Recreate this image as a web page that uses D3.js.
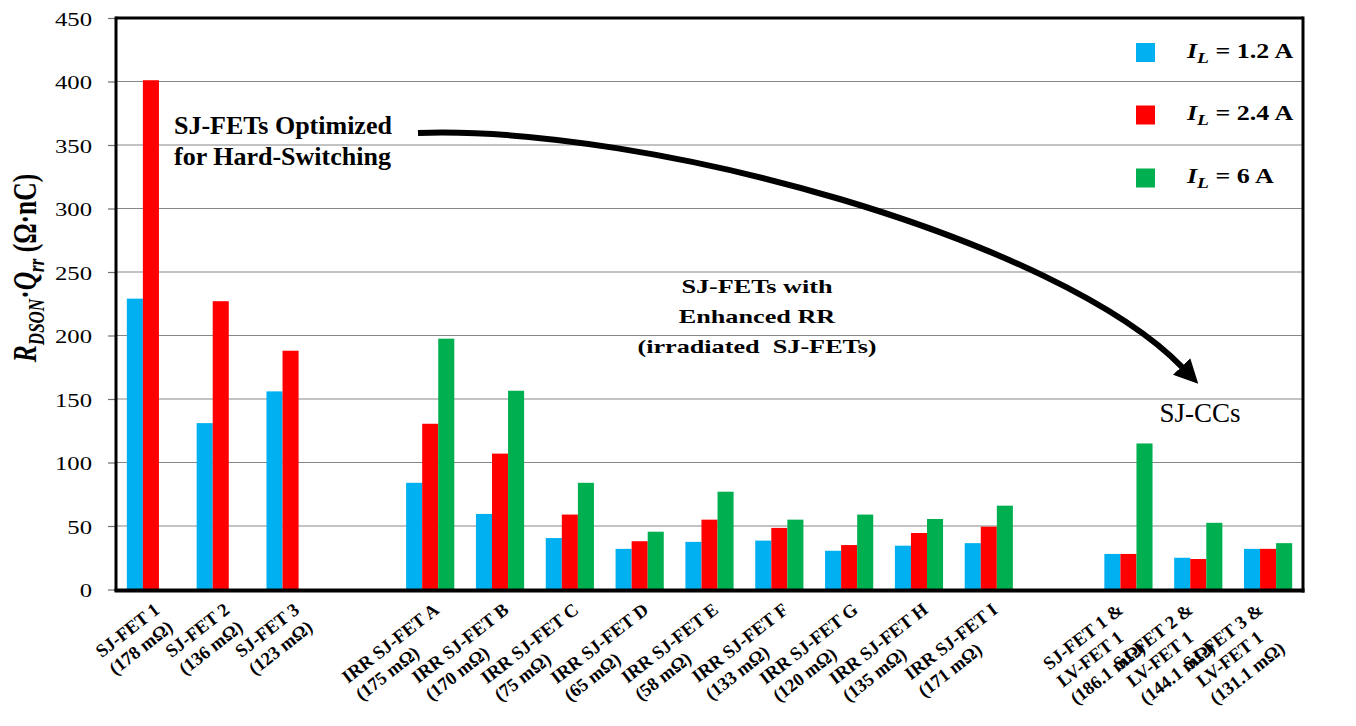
<!DOCTYPE html>
<html>
<head>
<meta charset="utf-8">
<script src="https://cdn.jsdelivr.net/npm/d3@7"></script>
<style>
  html, body { margin: 0; padding: 0; background: #fff; }
  svg { display: block; }
  text { font-family: "Liberation Serif", "Times New Roman", serif; fill: #000; }
</style>
</head>
<body>
<svg id="chart" width="1356" height="726"></svg>
<script>
// ---------- data ----------
const categories = [
  ["SJ-FET 1", "(178 mΩ)"],
  ["SJ-FET 2", "(136 mΩ)"],
  ["SJ-FET 3", "(123 mΩ)"],
  [],
  ["IRR SJ-FET A", "(175 mΩ)"],
  ["IRR SJ-FET B", "(170 mΩ)"],
  ["IRR SJ-FET C", "(75 mΩ)"],
  ["IRR SJ-FET D", "(65 mΩ)"],
  ["IRR SJ-FET E", "(58 mΩ)"],
  ["IRR SJ-FET F", "(133 mΩ)"],
  ["IRR SJ-FET G", "(120 mΩ)"],
  ["IRR SJ-FET H", "(135 mΩ)"],
  ["IRR SJ-FET I", "(171 mΩ)"],
  [],
  ["SJ-FET 1 &", "LV-FET 1", "(186.1 mΩ)"],
  ["SJ-FET 2 &", "LV-FET 1", "(144.1 mΩ)"],
  ["SJ-FET 3 &", "LV-FET 1", "(131.1 mΩ)"]
];
const seriesNames = ["1.2 A", "2.4 A", "6 A"];
const seriesColors = ["#00B0F0", "#FF0000", "#00B050"];
const valuesIL12 = [229, 131, 156, null, 84, 59.5, 40.5, 32, 37.5, 38.5, 30.5, 34.5, 36.5, null, 28, 25, 32];
const valuesIL24 = [401, 227, 188, null, 130.5, 107, 59, 38, 55, 48.5, 35, 44.5, 49.5, null, 28, 24, 32];
const valuesIL6  = [0, 0, 0, null, 197.5, 156.5, 84, 45.5, 77, 55, 59, 55.5, 66, null, 115, 52.5, 36.5];
const yTicks = [0, 50, 100, 150, 200, 250, 300, 350, 400, 450];

const seriesValues = [valuesIL12, valuesIL24, valuesIL6];

// ---------- layout ----------
const svg = d3.select("#chart");
const L = 116, R = 1303, T = 18, B = 589.5;
const SX = 1.3; // horizontal stretch of the reference text

const x0 = d3.scaleBand().domain(d3.range(categories.length)).range([L, R])
  .paddingInner(0.31).paddingOuter(0.155);
const x1 = d3.scaleBand().domain(d3.range(seriesNames.length)).range([0, x0.bandwidth()]);
const y = d3.scaleLinear().domain([0, 450]).range([B, T]);

// gridlines
svg.append("g").selectAll("line").data(yTicks.filter(d => d > 0 && d < 450)).join("line")
  .attr("x1", L).attr("x2", R).attr("y1", d => y(d)).attr("y2", d => y(d))
  .attr("stroke", "#878787").attr("stroke-width", 1.2);

// bars
const bars = [];
categories.forEach((c, i) => {
  seriesValues.forEach((vals, s) => {
    if (vals[i] != null && vals[i] > 0) bars.push({ i, s, v: vals[i] });
  });
});
svg.append("g").selectAll("rect").data(bars).join("rect")
  .attr("x", d => x0(d.i) + x1(d.s))
  .attr("width", x1.bandwidth())
  .attr("y", d => y(d.v))
  .attr("height", d => B - y(d.v))
  .attr("fill", d => seriesColors[d.s]);

// y axis
const yAxis = d3.axisLeft(y).tickValues(yTicks).tickSize(8).tickFormat(d3.format("d"));
const gy = svg.append("g").attr("transform", `translate(${L},0)`).call(yAxis)
  .attr("font-family", null).attr("font-size", null);
gy.select(".domain").remove();
gy.selectAll(".tick line").attr("stroke", "#6e6e6e").attr("stroke-width", 1.2);
gy.selectAll(".tick text")
  .attr("x", null).attr("dy", null)
  .attr("transform", `translate(-24,7) scale(${SX},1)`)
  .attr("text-anchor", "end")
  .style("font-family", "'Liberation Serif', serif")
  .style("font-size", "19px")
  .attr("fill", "#000");

// frame
svg.append("line").attr("x1", L).attr("x2", L).attr("y1", T - 1.5).attr("y2", B + 2)
  .attr("stroke", "#000").attr("stroke-width", 3);
svg.append("line").attr("x1", L).attr("x2", R).attr("y1", T).attr("y2", T)
  .attr("stroke", "#000").attr("stroke-width", 3);
svg.append("line").attr("x1", R).attr("x2", R).attr("y1", T - 1.5).attr("y2", B + 3)
  .attr("stroke", "#000").attr("stroke-width", 3);
svg.append("line").attr("x1", L - 1.5).attr("x2", R + 1.5).attr("y1", B + 1).attr("y2", B + 1)
  .attr("stroke", "#000").attr("stroke-width", 4);

// x labels (rotated, left aligned lines; first line end anchored near the slot)
const lh = 22, ANG = -38;
const xl = svg.append("g");
categories.forEach((lines, i) => {
  if (!lines.length) return;
  const g = xl.append("g");
  const t = g.append("text").style("font-size", "18.5px").style("font-weight", "bold");
  lines.forEach((ln, k) => {
    t.append("tspan").attr("x", 0).attr("y", k * lh).text(ln);
  });
  const L1 = t.select("tspan").node().getComputedTextLength();
  const cx = x0(i) + x0.bandwidth() / 2 + 10 - 14 * (lines.length - 2);
  g.attr("transform", `translate(${cx},612) rotate(${ANG}) translate(${-L1},0)`);
});

// y label
const ylab = svg.append("text")
  .attr("transform", `translate(36,268) scale(${SX},1) rotate(-90)`)
  .attr("text-anchor", "middle")
  .style("font-size", "25.5px").style("font-weight", "bold");
ylab.append("tspan").style("font-style", "italic").text("R");
ylab.append("tspan").style("font-style", "italic").style("font-size", "17px").attr("dy", 6).text("DSON");
ylab.append("tspan").attr("dy", -6).text("·");
ylab.append("tspan").style("font-style", "italic").text("Q");
ylab.append("tspan").style("font-style", "italic").style("font-size", "17px").attr("dy", 6).text("rr");
ylab.append("tspan").attr("dy", -6).text(" (Ω·nC)");

// legend
const legY = [52.5, 115, 178];
const leg = svg.append("g");
seriesNames.forEach((n, s) => {
  leg.append("rect").attr("x", 1136).attr("y", legY[s] - 9.5).attr("width", 19).attr("height", 19)
    .attr("fill", seriesColors[s]);
  const t = leg.append("text")
    .attr("transform", `translate(1187,${legY[s] + 5}) scale(${SX},1)`)
    .style("font-size", "20px").style("font-weight", "bold");
  t.append("tspan").style("font-style", "italic").text("I");
  t.append("tspan").style("font-style", "italic").style("font-size", "15px").attr("dy", 5).text("L");
  t.append("tspan").attr("dy", -5).text(" = " + n);
});

// annotations
const a1 = svg.append("text").style("font-size", "26px").style("font-weight", "bold");
a1.append("tspan").attr("x", 174).attr("y", 134).text("SJ-FETs Optimized");
a1.append("tspan").attr("x", 174).attr("y", 165).text("for Hard-Switching");

const midLines = ["SJ-FETs with", "Enhanced RR", "(irradiated  SJ-FETs)"];
midLines.forEach((ln, k) => {
  svg.append("text")
    .attr("transform", `translate(757,${293 + k * 30}) scale(1.38,1)`)
    .attr("text-anchor", "middle")
    .style("font-size", "19px").style("font-weight", "bold")
    .style("white-space", "pre")
    .text(ln);
});

svg.append("text").attr("x", 1200).attr("y", 422).attr("text-anchor", "middle")
  .style("font-size", "27px").text("SJ-CCs");

// arrow
const defs = svg.append("defs");
defs.append("marker").attr("id", "ah").attr("markerUnits", "userSpaceOnUse")
  .attr("markerWidth", 30).attr("markerHeight", 30).attr("refX", 2).attr("refY", 12)
  .attr("orient", "auto")
  .append("path").attr("d", "M0,0 L24,12 L0,24 Z").attr("fill", "#000");
svg.append("path")
  .attr("d", "M418,133 C650,125 1060,240 1183,368")
  .attr("fill", "none").attr("stroke", "#000").attr("stroke-width", 6)
  .attr("marker-end", "url(#ah)");
</script>
</body>
</html>
